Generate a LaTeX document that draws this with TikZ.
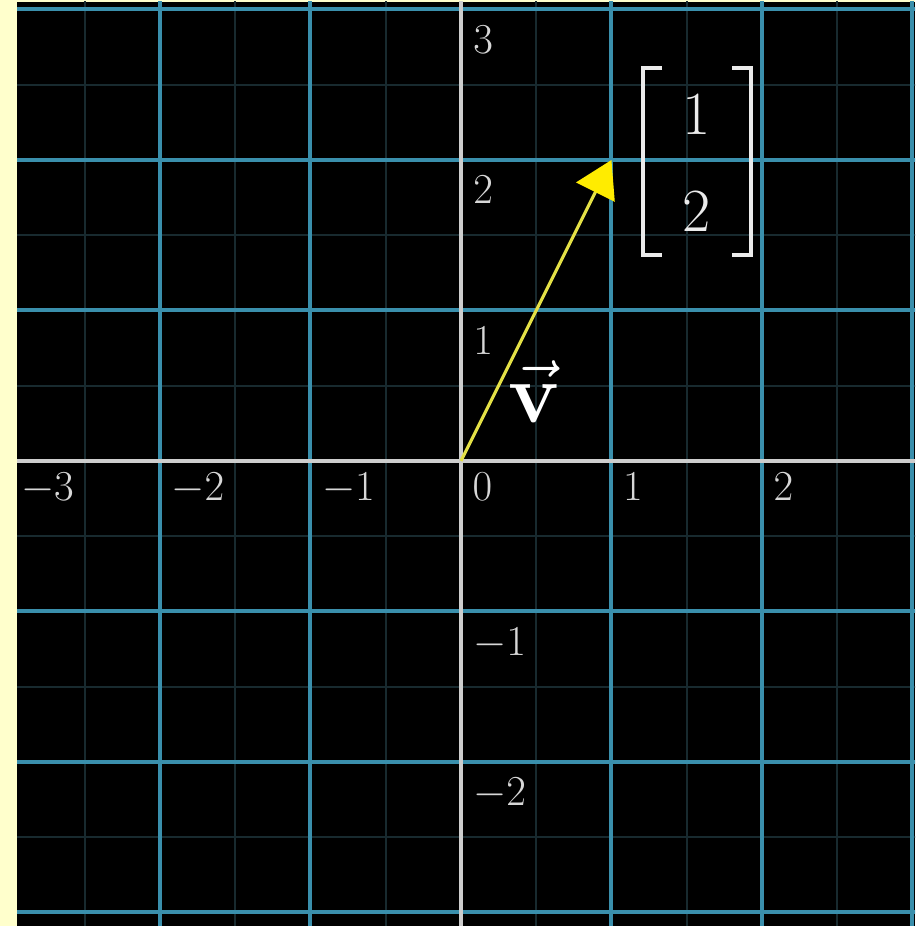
\RequirePackage{fix-cm}
\documentclass[tikz,border=0pt]{standalone}
\usetikzlibrary{arrows.meta}
\definecolor{paper}{RGB}{255,255,204}
\definecolor{majorc}{RGB}{58,143,172}
\definecolor{minorc}{RGB}{24,42,47}
\definecolor{axisc}{RGB}{205,205,205}
\definecolor{lblc}{RGB}{215,215,215}
\definecolor{vecline}{RGB}{228,224,70}
\definecolor{vechead}{RGB}{255,236,0}
\definecolor{matc}{RGB}{235,235,235}
\begin{document}
\begin{tikzpicture}[x=112.875pt,y=112.875pt,
  major/.style={draw=majorc, line width=3pt},
  minor/.style={draw=minorc, line width=1.5pt},
  axisline/.style={draw=axisc, line width=3pt},
  numlbl/.style={text=lblc, inner sep=0pt, anchor=north west, font=\fontsize{32}{32}\selectfont},
  vec/.style={draw=vecline, line width=2.4pt, -{Triangle[length=27pt,width=32pt,color=vechead]}},
  vlbl/.style={text=white, inner sep=0pt, font=\fontsize{64}{64}\selectfont},
  matlbl/.style={text=matc, inner sep=0pt, font=\fontsize{46}{46}\selectfont},
  bracket/.style={draw=matc, line width=2.8pt, line cap=butt, line join=miter}]
\useasboundingbox (-3.063,-3.090) rectangle (3.017,3.063);
\fill[paper] (-3.063,-3.090) rectangle (3.017,3.063);
\fill[black] (-2.950,-3.090) rectangle (3.017,3.050);
\begin{scope}
  \clip (-2.950,-3.090) rectangle (3.017,3.050);
  \foreach \t in {-3.5,-2.5,...,3.5} {
    \draw[minor] (\t,-3.3) -- (\t,3.3);
    \draw[minor] (-3.3,\t) -- (3.3,\t);
  }
  \foreach \t in {-3,-2,-1,1,2,3} {
    \draw[major] (\t,-3.3) -- (\t,3.3);
    \draw[major] (-3.3,\t) -- (3.3,\t);
  }
  \draw[axisline] (-3.3,0) -- (3.3,0);
  \draw[axisline] (0,-3.3) -- (0,3.3);
\end{scope}
\foreach \v/\n in {-3/xm3,-2/xm2,-1/xm1,0/x0,1/x1,2/x2}
  \node[numlbl] (\n) at (\v+0.075,-0.08) {$\v$};
\foreach \v/\n in {3/y3,2/y2,1/y1,-1/ym1,-2/ym2}
  \node[numlbl] (\n) at (0.08,\v-0.105) {$\v$};
\coordinate (O) at (0,0);
\coordinate (V) at (1,2);
\draw[vec] (O) -- (V);
\node[vlbl] (vl) at (0.49,0.46) {$\vec{\mathbf{v}}$};
\node[matlbl] (m1) at (1.568,2.299) {$1$};
\node[matlbl] (m2) at (1.568,1.654) {$2$};
\draw[bracket] (1.336,2.611) -- (1.209,2.611) -- (1.209,1.369) -- (1.336,1.369);
\draw[bracket] (1.801,2.611) -- (1.927,2.611) -- (1.927,1.369) -- (1.801,1.369);
\end{tikzpicture}
\end{document}
